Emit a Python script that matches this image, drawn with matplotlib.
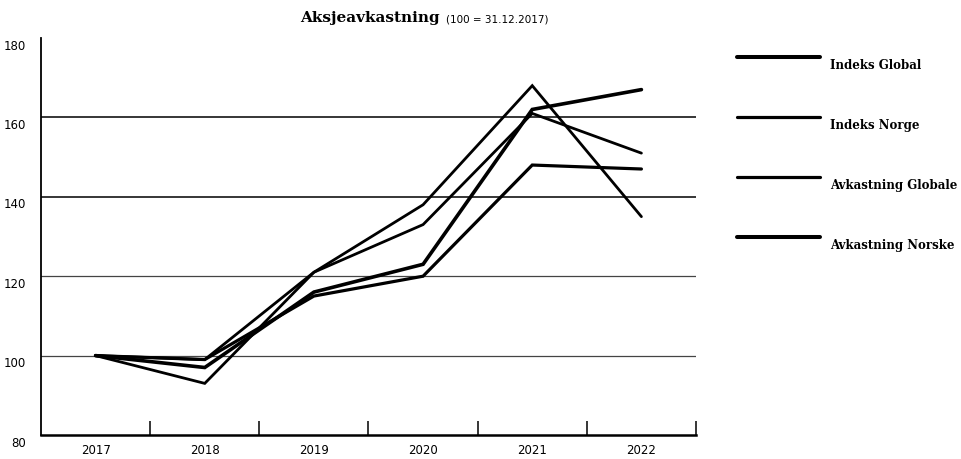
import matplotlib
matplotlib.use("Agg")
import matplotlib.pyplot as plt
from matplotlib.lines import Line2D
from matplotlib.transforms import offset_copy

# Data
years = ["2017", "2018", "2019", "2020", "2021", "2022"]
series_names = ["Indeks Global", "Indeks Norge", "Avkastning Globale", "Avkastning Norske"]
indeks_global = [100, 97, 116, 123, 162, 167]
indeks_norge = [100, 99, 121, 133, 161, 151]
avk_globale = [100, 93, 121, 138, 168, 135]
avk_norske = [100, 99, 115, 120, 148, 147]
yticks = [80, 100, 120, 140, 160, 180]

all_series = [indeks_global, indeks_norge, avk_globale, avk_norske]
widths = [2.6, 2.0, 2.0, 2.3]
legend_widths = [2.9, 2.3, 2.3, 2.9]

tick_font = ["Liberation Sans Narrow", "DejaVu Sans"]
slab_font = ["DejaVu Serif"]

fig = plt.figure(figsize=(9.62, 4.6), dpi=100)
ax = fig.add_axes([41 / 962, 1 - 436 / 460, (696 - 41) / 962, (436 - 39) / 460])

x = list(range(len(years)))

# gridlines (no line at the top value); lower ones look lighter
for v in yticks[1:-1]:
    light = v < 140
    ax.axhline(v, color="#444444" if light else "black", lw=0.9 if light else 1.1, zorder=1)

for vals, lw in zip(all_series, widths):
    ax.plot(x, vals, color="black", lw=lw, solid_joinstyle="miter",
            solid_capstyle="round", zorder=3)

ax.set_xlim(-0.5, len(years) - 0.5)
ax.set_ylim(80, 180)

for s in ["top", "right"]:
    ax.spines[s].set_visible(False)
ax.spines["left"].set_linewidth(1.3)
ax.spines["bottom"].set_linewidth(1.8)

# x ticks sit between categories, labels centred on them
ax.set_xticks([i + 0.5 for i in x])
ax.set_xticklabels([])
ax.set_xticks(x, minor=True)
ax.set_xticklabels(years, minor=True, fontfamily=tick_font, fontsize=8.5)
ax.tick_params(axis="x", which="major", direction="in", length=10, width=1.1)
ax.tick_params(axis="x", which="minor", length=0, pad=6)

ax.set_yticks(yticks)
ax.set_yticklabels([str(v) for v in yticks], fontfamily=tick_font, fontsize=8.5)
ax.tick_params(axis="y", length=0, pad=11)
for lab in ax.get_yticklabels():
    lab.set_transform(offset_copy(lab.get_transform(), fig=fig, x=0, y=-4, units="points"))

# title
fig.text(300 / 962, 1 - 18 / 460, "Aksjeavkastning", fontfamily=slab_font,
         fontweight="bold", fontsize=11, va="center", ha="left")
fig.text(446 / 962, 1 - 19 / 460, "(100 = 31.12.2017)", fontfamily=tick_font,
         fontsize=7.5, va="center", ha="left")

# legend drawn by hand on the right
for i, (name, lw) in enumerate(zip(series_names, legend_widths)):
    y = 1 - (58 + 60 * i) / 460
    fig.add_artist(Line2D([737 / 962, 820 / 962], [y, y], color="black", lw=lw,
                          solid_capstyle="round", transform=fig.transFigure))
    fig.text(830 / 962, y - 8 / 460, name, fontfamily=slab_font, fontweight="bold",
             fontsize=8.5, va="center", ha="left")

fig.savefig("out.png", dpi=100)
